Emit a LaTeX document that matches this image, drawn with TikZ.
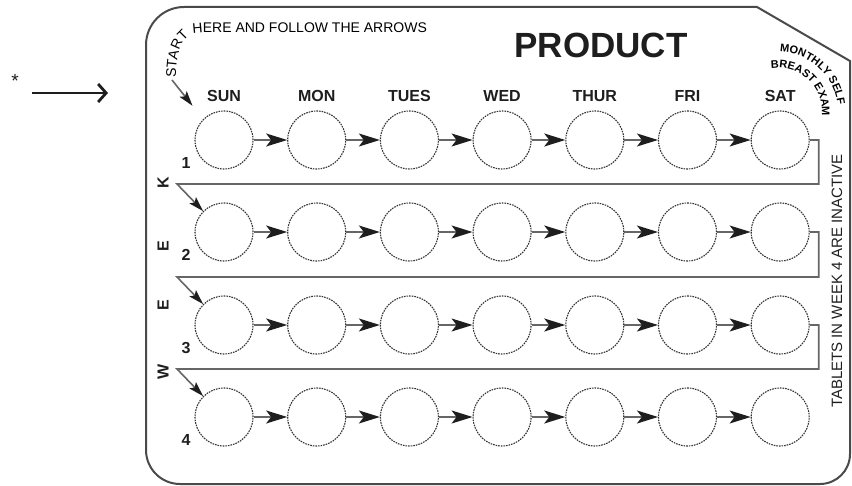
\documentclass[tikz,border=0pt]{standalone}
\usepackage{fontspec}
\setmainfont{Liberation Sans}
\setsansfont{Liberation Sans}
\usetikzlibrary{arrows.meta,positioning,decorations.text}
\definecolor{ink}{HTML}{1E1E1E}
\definecolor{edge}{HTML}{4A4A4A}
\definecolor{line}{HTML}{666666}
\definecolor{dots}{HTML}{333333}

\begin{document}
\begin{tikzpicture}[
  x=1pt,y=-1pt,
  font=\sffamily,
  card/.style={draw=edge,line width=2pt},
  pill/.style={circle,draw=dots,line width=1.1pt,dash pattern=on 1.6pt off 1pt,
               minimum size=58pt,inner sep=0pt},
  daylabel/.style={font=\sffamily\bfseries\fontsize{16}{16}\selectfont,text=ink,inner sep=0pt},
  weekletter/.style={daylabel,rotate=90},
  nextarrow/.style={-{Stealth[length=21pt,width=13pt,inset=5pt,color=ink]},draw=line,line width=1.3pt},
  rowlink/.style={-{Stealth[length=15pt,width=9pt,inset=3pt,color=ink]},draw=line,line width=1.6pt},
  leadarrow/.style={-{Straight Barb[length=8pt,width=18pt]},draw=ink,line width=2.8pt},
  sidenote/.style={font=\sffamily\fontsize{15}{15}\selectfont,text=ink}
]

\useasboundingbox (0,0) rectangle (852,486);

% Blister card outline
\draw[card] (146,45) arc[start angle=180,end angle=270,radius=38] -- (757,7) -- (850,61)
  -- (850,454) arc[start angle=0,end angle=90,radius=30] -- (180,484)
  arc[start angle=90,end angle=180,radius=34] -- cycle;

% Tablets, one row per week
\foreach \r/\y in {1/140,2/232,3/325,4/417}{
  \foreach \c in {1,...,7}
    \node[pill] (c\r\c) at ({224+(\c-1)*92.7},\y) {};
  \foreach \c [evaluate=\c as \nx using int(\c+1)] in {1,...,6}
    \draw[nextarrow] (c\r\c.east) -- (c\r\nx.west);
  \node[daylabel] (num\r) at (186,\y+23) {\r};
}

% Day heads
\foreach \d [count=\c] in {SUN,MON,TUES,WED,THUR,FRI,SAT}
  \node[daylabel,above=9pt of c1\c] (day\c) {\d};

% WEEK, read upwards
\node[weekletter] (wk) at (163,183) {K};
\node[weekletter] (we2) at (163,246) {E};
\node[weekletter] (we1) at (163,305) {E};
\node[weekletter] (ww) at (163,372) {W};

% Links from one week to the next
\coordinate (k1) at (177,184);
\coordinate (k2) at (177,277);
\coordinate (k3) at (177,369);
\draw[rowlink] (c17.east) -- ++(9,0) |- (k1) -- (c21.north west);
\draw[rowlink] (c27.east) -- ++(9,0) |- (k2) -- (c31.north west);
\draw[rowlink] (c37.east) -- ++(9,0) |- (k3) -- (c41.north west);

% Start
\coordinate (st) at (172,80);
\draw[rowlink,shorten >=17pt] (st) -- (c11.north west);
\path[decorate,decoration={text along path,text align=left,
  text={|\fontsize{14}{14}\selectfont|START HERE AND FOLLOW THE ARROWS}}]
  (176,78) .. controls (176,52) and (182,33) .. (200,33) -- (440,33);

% Titles and notes
\node[font=\sffamily\bfseries\fontsize{35}{35}\selectfont,text=ink] (brand) at (601,45) {PRODUCT};
\path[decorate,decoration={text along path,text align=center,
  text={|\bfseries\fontsize{11}{11}\selectfont|MONTHLY SELF}}]
  (772.8,52.2) arc[start angle=265,end angle=360,radius=60];
\path[decorate,decoration={text along path,text align=center,
  text={|\bfseries\fontsize{11}{11}\selectfont|BREAST EXAM}}]
  (768.9,69.0) arc[start angle=258,end angle=368,radius=44];
\node[sidenote,rotate=90] (inactive) at (837,281) {TABLETS IN WEEK 4 ARE INACTIVE};

% Pointer outside the card
\node[font=\fontsize{19}{19}\selectfont,text=ink,inner sep=0pt] (star) at (15,81) {*};
\coordinate (a0) at (32,93);
\coordinate (a1) at (108,93);
\draw[leadarrow] (a0) -- (a1);

\end{tikzpicture}
\end{document}
